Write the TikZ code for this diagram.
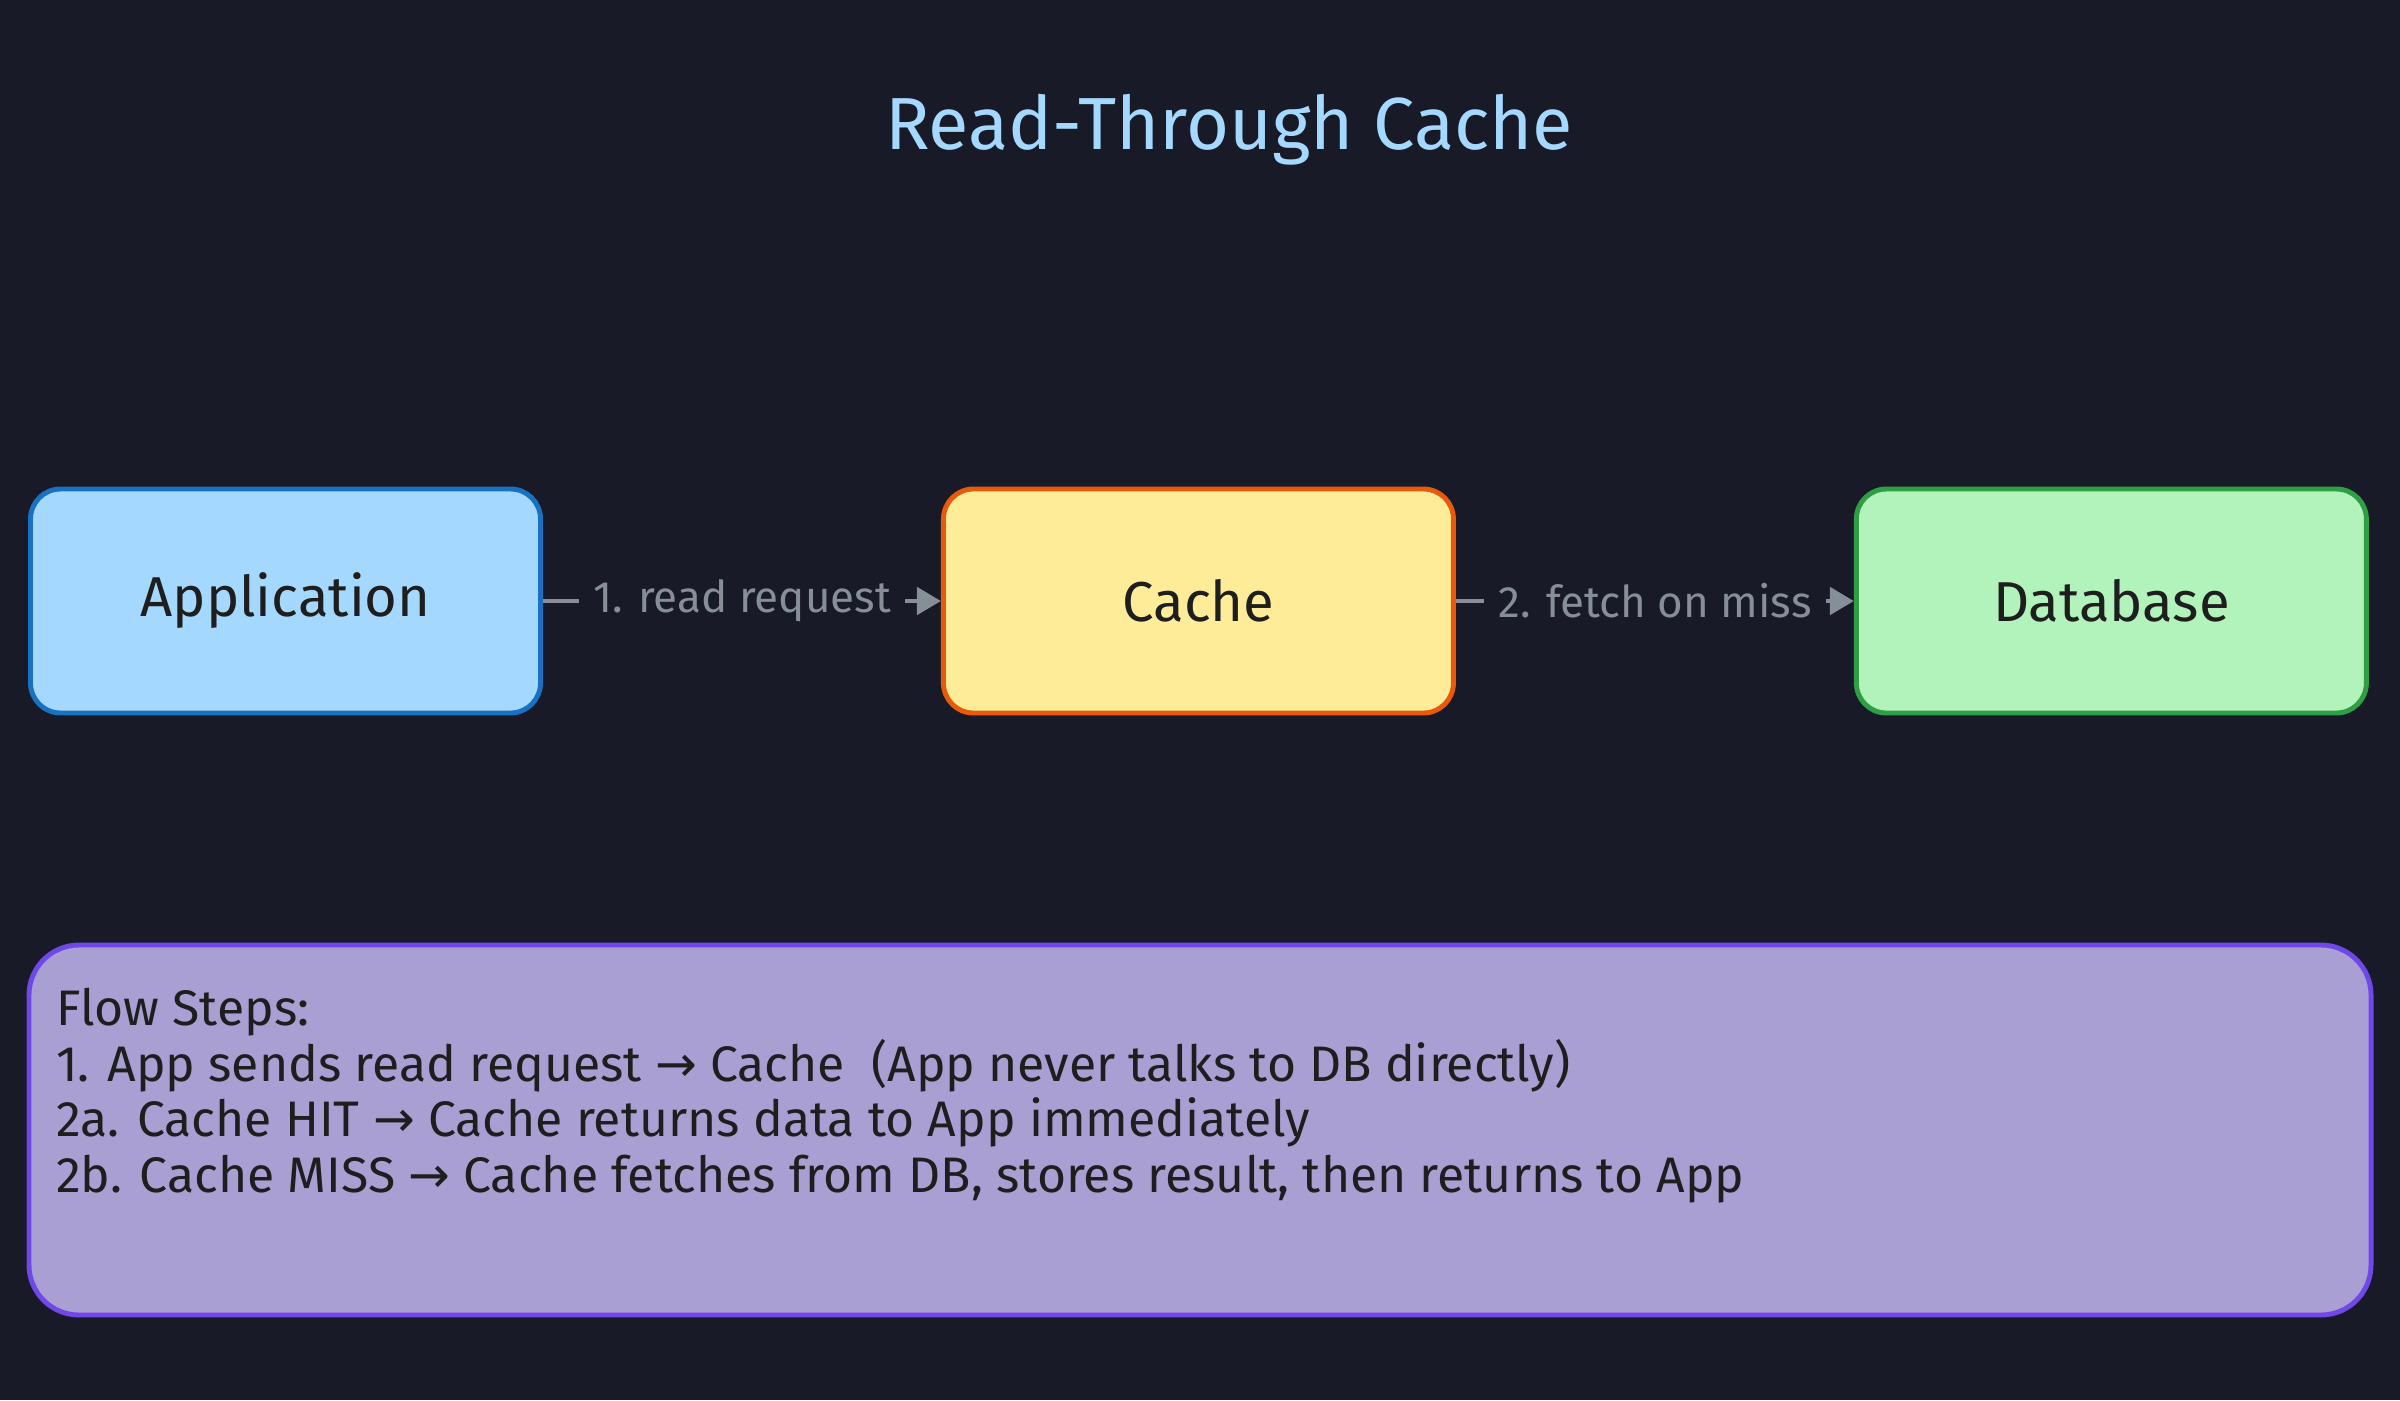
\documentclass[tikz,border=0pt]{standalone}
\usepackage{fontspec}
\setmainfont{Fira Sans}
\newfontfamily\symfont{DejaVu Sans}
\usetikzlibrary{positioning,arrows.meta,calc}
\definecolor{bgdark}{HTML}{181A27}
\definecolor{titleblue}{HTML}{A5D8FF}
\definecolor{appfill}{HTML}{A5D8FF}
\definecolor{appline}{HTML}{1971C2}
\definecolor{cachefill}{HTML}{FFEC99}
\definecolor{cacheline}{HTML}{E8590C}
\definecolor{dbfill}{HTML}{B2F2BB}
\definecolor{dbline}{HTML}{2F9E44}
\definecolor{flowfill}{HTML}{AA9FD3}
\definecolor{flowline}{HTML}{7048E8}
\definecolor{arrowgray}{HTML}{868E96}
\definecolor{inkdark}{HTML}{1E1E1E}
\newcommand{\rarr}{{\symfont →}}

\begin{document}
\begin{tikzpicture}[
  node distance=3.98cm,
  box/.style={rectangle, draw, rounded corners=0.3cm, line width=1.4pt, minimum width=5.1cm, minimum height=2.24cm, text=inkdark, font=\fontsize{16}{19}\selectfont},
  arrow/.style={-{Triangle[length=0.24cm, width=0.27cm]}, arrowgray, line width=1.4pt},
  lbl/.style={fill=bgdark, text=arrowgray, inner xsep=4pt, inner ysep=2pt, font=\fontsize{12.5}{15}\selectfont}
]

% Background
\fill[bgdark] (0,0) rectangle (24,-14);
\useasboundingbox (0,0) rectangle (24,-14);

% Title
\node[text=titleblue, font=\fontsize{21}{25}\selectfont] (title) at (12.29,-1.3) {Read-Through Cache};

% Components
\node[box, fill=appfill, draw=appline] (app) at (2.855,-6.01) {Application};
\node[box, fill=cachefill, draw=cacheline, right=of app] (cache) {Cache};
\node[box, fill=dbfill, draw=dbline, right=of cache] (db) {Database};

% Arrows
\draw[arrow] (app) -- node[lbl] {1. read request} (cache);
\draw[arrow] (cache) -- node[lbl] {2. fetch on miss} (db);

% Flow steps
\node[rectangle, draw=flowline, fill=flowfill, rounded corners=0.5cm, line width=1.4pt, minimum width=23.42cm, minimum height=3.7cm] (flow) at (12,-11.3) {};
\node[anchor=north west, inner sep=0pt, align=left, text=inkdark, font=\fontsize{14.2}{15.8}\selectfont] (steps) at ($(flow.north west)+(0.29,-0.45)$) {%
Flow Steps:\\
1. App sends read request \rarr{} Cache \ (App never talks to DB directly)\\
2a. Cache HIT \rarr{} Cache returns data to App immediately\\
2b. Cache MISS \rarr{} Cache fetches from DB, stores result, then returns to App};

\end{tikzpicture}
\end{document}
